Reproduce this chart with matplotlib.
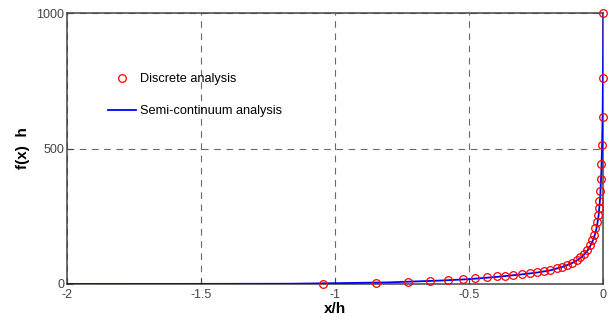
import numpy as np
import matplotlib
matplotlib.use('Agg')
import matplotlib.pyplot as plt

# discrete analysis points (x/h, f(x) h)
x_disc = [-1.044, -0.847, -0.730, -0.646, -0.578, -0.524, -0.477, -0.434, -0.398,
          -0.367, -0.338, -0.305, -0.273, -0.247, -0.223, -0.198, -0.173, -0.154,
          -0.135, -0.117, -0.100, -0.086, -0.073, -0.061, -0.051, -0.042, -0.036,
          -0.030, -0.024, -0.020, -0.017, -0.015, -0.013, -0.011, -0.009, -0.004,
          -0.003, -0.002, 0.0]
f_disc = [1, 5, 9, 12, 15, 17, 21, 25, 28,
          31, 35, 37, 40, 43, 47, 52, 58, 64,
          70, 79, 88, 98, 111, 125, 144, 162, 181,
          207, 230, 255, 279, 307, 342, 386, 443, 513,
          615, 761, 999]

# semi-continuum analysis curve
x_semi = [-2.0, -1.5, -1.17, -1.0, -0.8, -0.6, -0.5, -0.4, -0.35, -0.3, -0.25, -0.2,
          -0.15, -0.12, -0.1, -0.08, -0.06, -0.045, -0.035, -0.025, -0.018, -0.012,
          -0.008, -0.005, -0.003, -0.0015, 0.0]
f_semi = [0, 0.5, 1, 3, 6, 13, 18, 26, 31, 36, 42, 50,
          64, 76, 86, 101, 123, 148, 172, 210, 255, 325,
          415, 525, 645, 800, 1000]

plt.rcParams['font.family'] = ['Liberation Sans', 'DejaVu Sans']

fig = plt.figure(figsize=(6.13, 3.2), dpi=100)
ax = fig.add_axes([0.109, 0.1125, 0.8755, 0.8465])

ax.plot(x_semi, f_semi, color='#0000ff', lw=1.3, label='Semi-continuum analysis', zorder=3)
ax.plot(x_disc, f_disc, 'o', mfc='none', mec='#ff0000', mew=0.9, ms=5.5,
        label='Discrete analysis', zorder=4, clip_on=False)

ax.set_xlim(-2, 0)
ax.set_ylim(0, 1000)
ax.set_xticks([-2, -1.5, -1, -0.5, 0])
ax.set_xticklabels(['-2', '-1.5', '-1', '-0.5', '0'])
ax.set_yticks([0, 500, 1000])
ax.grid(True, color='#6a6a6a', ls=(0, (6, 5)), lw=0.8)
ax.tick_params(direction='in', labelsize=9, colors='#444444', length=4, pad=2)
ax.tick_params(axis='x', pad=3.5)
for s in ax.spines.values():
    s.set_color('#444444')
    s.set_linewidth(1.1)

ax.set_xlabel('x/h', fontsize=11, fontweight='bold', labelpad=1)
ax.set_ylabel('f(x)  h', fontsize=11, fontweight='bold', labelpad=4)

h, l = ax.get_legend_handles_labels()
ax.legend(h[::-1], l[::-1], loc='upper left', bbox_to_anchor=(0.055, 0.82),
          frameon=False, fontsize=9.2, handlelength=2.2, labelspacing=1.55,
          handletextpad=0.3)

fig.savefig('out.png', dpi=100)
